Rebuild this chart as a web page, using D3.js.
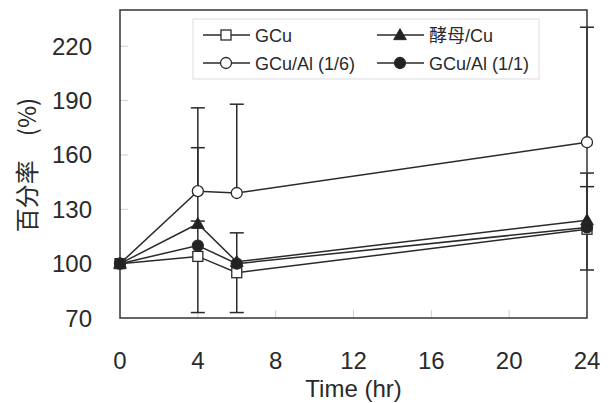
<!DOCTYPE html>
<html>
<head>
<meta charset="utf-8">
<script src="https://cdn.jsdelivr.net/npm/d3@7"></script>
<style>
  html, body { margin: 0; padding: 0; background: #fff; }
  svg { display: block; }
</style>
</head>
<body>
<div id="chart"></div>
<script>
const times = [0, 4, 6, 24];
const xTicks = [0, 4, 8, 12, 16, 20, 24];
const yTicks = [70, 100, 130, 160, 190, 220];

const gcu = [100, 104, 95, 119];
const yeast = [100, 122, 101, 124];
const gcuAl16 = [100, 140, 139, 167];
const gcuAl11 = [100, 110, 100, 120];

// error bar ends: [time, from, to]
const errBars = [
  [4, 140, 186], [4, 110, 164], [4, 122, 123.5], [4, 104, 73],
  [6, 139, 188], [6, 101, 117], [6, 95, 73],
  [24, 167, 230.5], [24, 124, 150], [24, 120, 142.5], [24, 119, 96.5]
];

const series = [
  { name: 'GCu', values: gcu, shape: 'square', fill: '#fff' },
  { name: 'GCu/Al (1/6)', values: gcuAl16, shape: 'circle', fill: '#fff' },
  { name: '酵母/Cu', values: yeast, shape: 'triangle', fill: '#222' },
  { name: 'GCu/Al (1/1)', values: gcuAl11, shape: 'circle', fill: '#222' }
];

const W = 609, H = 403, mL = 120, mR = 22, mT = 10, mB = 85;
const FONT = '"Liberation Sans", Arial, sans-serif';
const INK = '#2a2a2a';

const svg = d3.select('#chart').append('svg').attr('width', W).attr('height', H);
const x = d3.scaleLinear().domain([0, 24]).range([mL, W - mR]);
const y = d3.scaleLinear().domain([70, 240]).range([H - mB, mT]);

// inner light ticks
yTicks.forEach(t => {
  if (t === 70) return;
  svg.append('line').attr('x1', mL).attr('x2', mL + 8).attr('y1', y(t)).attr('y2', y(t))
    .attr('stroke', '#d0d0d0').attr('stroke-width', 1);
});
xTicks.forEach(t => {
  if (t === 0 || t === 24) return;
  svg.append('line').attr('x1', x(t)).attr('x2', x(t)).attr('y1', H - mB).attr('y2', H - mB - 8)
    .attr('stroke', '#d0d0d0').attr('stroke-width', 1);
});

// tick labels
yTicks.forEach(t => {
  svg.append('text').attr('x', 92).attr('y', y(t) + 8.5).attr('text-anchor', 'end')
    .attr('font-family', FONT).attr('font-size', 24).attr('fill', INK).text(t);
});
xTicks.forEach(t => {
  svg.append('text').attr('x', x(t)).attr('y', 369).attr('text-anchor', 'middle')
    .attr('font-family', FONT).attr('font-size', 24).attr('fill', INK).text(t);
});
svg.append('text').attr('x', (x(0) + x(24)) / 2).attr('y', 397).attr('text-anchor', 'middle')
  .attr('font-family', FONT).attr('font-size', 24).attr('fill', INK).text('Time (hr)');
svg.append('text').attr('transform', 'translate(36, 165) rotate(-90)')
  .attr('text-anchor', 'middle').attr('font-family', '"Noto Sans CJK SC", ' + FONT)
  .attr('font-size', 24).attr('fill', INK).text('百分率　(%)');

// error bars
errBars.forEach(([t, a, b]) => {
  svg.append('line').attr('x1', x(t)).attr('x2', x(t)).attr('y1', y(a)).attr('y2', y(b))
    .attr('stroke', INK).attr('stroke-width', 1.5);
  svg.append('line').attr('x1', x(t) - 7).attr('x2', x(t) + 7).attr('y1', y(b)).attr('y2', y(b))
    .attr('stroke', INK).attr('stroke-width', 1.5);
});

// frame
svg.append('rect').attr('x', mL).attr('y', mT).attr('width', W - mL - mR).attr('height', H - mT - mB)
  .attr('fill', 'none').attr('stroke', '#333').attr('stroke-width', 1.5);

function marker(g, shape, cx, cy, fill) {
  if (shape === 'square') {
    g.append('rect').attr('x', cx - 5).attr('y', cy - 5).attr('width', 10).attr('height', 10)
      .attr('fill', fill).attr('stroke', INK).attr('stroke-width', 1.3);
  } else if (shape === 'circle') {
    g.append('circle').attr('cx', cx).attr('cy', cy).attr('r', 5.5)
      .attr('fill', fill).attr('stroke', INK).attr('stroke-width', 1.3);
  } else {
    g.append('path').attr('d', d3.symbol(d3.symbolTriangle, 70)())
      .attr('transform', `translate(${cx},${cy + 1})`)
      .attr('fill', fill).attr('stroke', INK).attr('stroke-width', 1);
  }
}

const line = d3.line().x((d, i) => x(times[i])).y(d => y(d));
series.forEach(s => {
  svg.append('path').datum(s.values).attr('d', line).attr('fill', 'none')
    .attr('stroke', INK).attr('stroke-width', 1.5);
});
series.forEach(s => {
  // at t=0 all four markers overlap into one dark square
  s.values.forEach((v, i) => marker(svg, s.shape, x(times[i]), y(v), i === 0 && s.shape === 'square' ? INK : s.fill));
});

// legend
const lg = svg.append('g');
lg.append('rect').attr('x', 193).attr('y', 19).attr('width', 346).attr('height', 60)
  .attr('fill', '#fff').attr('stroke', '#ddd').attr('stroke-width', 1);
const legendPos = [[203, 35], [203, 63], [377, 35], [377, 63]];
series.forEach((s, i) => {
  const [lx, ly] = legendPos[i];
  lg.append('line').attr('x1', lx).attr('x2', lx + 47).attr('y1', ly).attr('y2', ly)
    .attr('stroke', INK).attr('stroke-width', 1.5);
  marker(lg, s.shape, lx + 23, ly, s.fill);
  lg.append('text').attr('x', lx + 52).attr('y', ly + 6.5)
    .attr('font-family', '"Liberation Sans", Arial, "Noto Sans CJK SC", sans-serif')
    .attr('font-size', 18).attr('fill', INK).text(s.name);
});
</script>
</body>
</html>
